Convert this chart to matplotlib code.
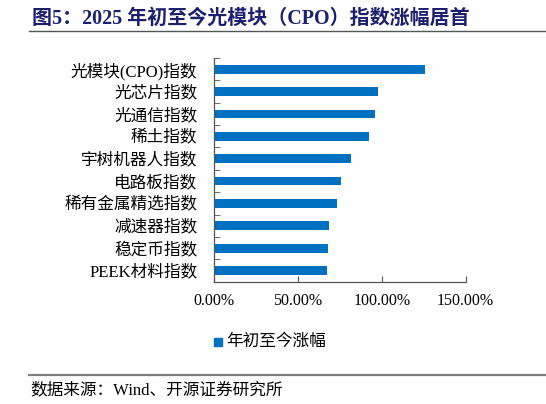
import numpy as np
import matplotlib
matplotlib.use("Agg")
import matplotlib.pyplot as plt
from matplotlib.patches import Rectangle

# 字体：拉丁字符用衬线体，中文回落到 Noto Sans CJK
plt.rcParams['font.family'] = ['Liberation Serif', 'Noto Sans CJK SC']
plt.rcParams['axes.unicode_minus'] = False

# 数据
categories = ["光模块(CPO)指数", "光芯片指数", "光通信指数", "稀土指数", "宇树机器人指数",
              "电路板指数", "稀有金属精选指数", "减速器指数", "稳定币指数", "PEEK材料指数"]
values = [125.7, 97.9, 95.8, 92.2, 81.6, 75.5, 73.5, 68.7, 67.9, 67.3]
xticks = [0, 50, 100, 150]
series_name = "年初至今涨幅"

title = "图5：2025 年初至今光模块（CPO）指数涨幅居首"
source = "数据来源：Wind、开源证券研究所"

BAR_COLOR = "#0070C0"
TITLE_COLOR = "#1B1F6E"

W, H = 546, 404
fig = plt.figure(figsize=(W / 100, H / 100), dpi=100)

ax = fig.add_axes([214 / W, 1 - 281.7 / H, (465.7 - 214) / W, (281.7 - 58) / H])
y = np.arange(len(categories))
ax.barh(y, values, height=0.39, color=BAR_COLOR, label=series_name)
ax.set_ylim(len(categories) - 0.5, -0.5)
ax.set_xlim(0, 150)

ax.set_xticks(xticks)
ax.set_xticklabels([f"{v:.2f}%" for v in xticks], fontsize=11.5)
ax.set_yticks(y)
ax.set_yticklabels(categories, fontsize=12)
ax.set_yticks(np.arange(len(categories) + 1) - 0.5, minor=True)
ax.tick_params(axis='y', which='major', length=0, pad=12)
ax.tick_params(axis='y', which='minor', direction='in', length=4, color='#555555')
ax.tick_params(axis='x', direction='in', length=4, color='#555555', pad=8)
for s in ['top', 'right']:
    ax.spines[s].set_visible(False)
for s in ['left', 'bottom']:
    ax.spines[s].set_color('#555555')
    ax.spines[s].set_linewidth(0.9)

# 图例
fig.patches.append(Rectangle((214 / W, 1 - 346 / H), 8 / W, 8 / H,
                             transform=fig.transFigure, color=BAR_COLOR))
fig.text(226 / W, 1 - 342 / H, series_name, fontsize=12, va='center', ha='left')

# 标题与分隔线
fig.text(32 / W, 1 - 19 / H, title, fontsize=14.4, fontweight='bold',
         color=TITLE_COLOR, va='center', ha='left')
fig.add_artist(plt.Line2D([29 / W, 1], [1 - 31 / H] * 2, color='#555555', lw=1.0,
                          transform=fig.transFigure))
fig.add_artist(plt.Line2D([29 / W, 1], [1 - 375 / H] * 2, color='#7f7f7f', lw=1.6,
                          transform=fig.transFigure))
fig.text(30 / W, 1 - 390 / H, source, fontsize=12, va='center', ha='left')

fig.savefig("out.png", dpi=100)
